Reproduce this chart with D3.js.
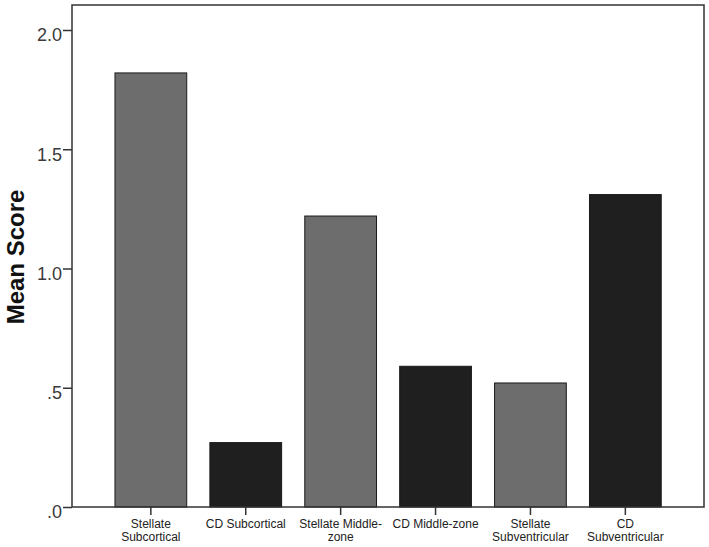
<!DOCTYPE html>
<html>
<head>
<meta charset="utf-8">
<script src="https://cdn.jsdelivr.net/npm/d3@7"></script>
<style>
  body { margin: 0; background: #fff; }
  svg { display: block; font-family: "Liberation Sans", Arial, sans-serif; }
</style>
</head>
<body>
<div id="chart"></div>
<script>
// data
var categories = [
  ["Stellate", "Subcortical"],
  ["CD Subcortical"],
  ["Stellate Middle-", "zone"],
  ["CD Middle-zone"],
  ["Stellate", "Subventricular"],
  ["CD", "Subventricular"]
];
var meanScores = [1.82, 0.27, 1.22, 0.59, 0.52, 1.31];
var barGroups = ["Stellate", "CD", "Stellate", "CD", "Stellate", "CD"];
var yTicks = [0, 0.5, 1.0, 1.5, 2.0];
var yTickLabels = [".0", ".5", "1.0", "1.5", "2.0"];

var width = 709, height = 547;
var plotLeft = 72, plotRight = 704, plotTop = 5, plotBottom = 507;

var svg = d3.select("#chart").append("svg")
  .attr("width", width)
  .attr("height", height);

var keys = categories.map(function (d, i) { return i; });

var xScale = d3.scaleBand()
  .domain(keys)
  .range([103.4, 672.8])
  .paddingInner(0.244)
  .paddingOuter(0.122);

var yScale = d3.scaleLinear()
  .domain([0, 2])
  .range([plotBottom, 30]);

var colour = d3.scaleOrdinal()
  .domain(["Stellate", "CD"])
  .range(["#6d6d6d", "#1f1f1f"]);

// bars
svg.selectAll("rect.bar")
  .data(meanScores)
  .enter()
  .append("rect")
  .attr("class", "bar")
  .attr("x", function (d, i) { return xScale(i); })
  .attr("y", function (d) { return yScale(d); })
  .attr("width", xScale.bandwidth())
  .attr("height", function (d) { return yScale(0) - yScale(d); })
  .attr("fill", function (d, i) { return colour(barGroups[i]); })
  .attr("stroke", "#1a1a1a")
  .attr("stroke-width", 1);

// frame
svg.append("rect")
  .attr("x", plotLeft)
  .attr("y", plotTop)
  .attr("width", plotRight - plotLeft)
  .attr("height", plotBottom - plotTop)
  .attr("fill", "none")
  .attr("stroke", "#333")
  .attr("stroke-width", 1.5);

// y axis
var yAxis = svg.append("g")
  .attr("transform", "translate(" + plotLeft + ",0)")
  .call(d3.axisLeft(yScale)
    .tickValues(yTicks)
    .tickFormat(function (d, i) { return yTickLabels[i]; })
    .tickSize(9)
    .tickPadding(1));
yAxis.select(".domain").remove();
yAxis.selectAll("line").attr("stroke", "#333").attr("stroke-width", 1.5);
yAxis.selectAll("text")
  .attr("font-size", 18)
  .attr("font-family", "Liberation Sans, Arial, sans-serif")
  .attr("fill", "#3a3a3a")
  .attr("dy", "0.6em");

// x axis
var xAxis = svg.append("g")
  .attr("transform", "translate(0," + plotBottom + ")")
  .call(d3.axisBottom(xScale).tickSize(8).tickFormat(""));
xAxis.select(".domain").remove();
xAxis.selectAll("line").attr("stroke", "#333").attr("stroke-width", 1.5);

xAxis.selectAll(".tick").each(function (d) {
  var t = d3.select(this).append("text")
    .attr("text-anchor", "middle")
    .attr("font-size", 12)
    .attr("font-family", "Liberation Sans, Arial, sans-serif")
    .attr("fill", "#222");
  categories[d].forEach(function (line, j) {
    t.append("tspan")
      .attr("x", 0)
      .attr("y", 20.5 + j * 13.4)
      .text(line);
  });
});

// y title
svg.append("text")
  .attr("transform", "translate(24," + 257 + ") rotate(-90)")
  .attr("text-anchor", "middle")
  .attr("font-size", 24)
  .attr("font-weight", "bold")
  .attr("fill", "#111")
  .text("Mean Score");
</script>
</body>
</html>
